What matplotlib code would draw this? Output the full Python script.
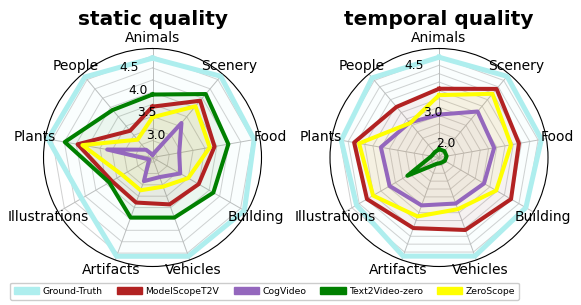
#Imports packages and dependencies
import numpy as np
import matplotlib
matplotlib.use('Agg')
import matplotlib.pyplot as plt
from matplotlib.patches import Patch

#Categories, models and colors
categories = ['Animals', 'Scenery', 'Food', 'Building', 'Vehicles',
              'Artifacts', 'Illustrations', 'Plants', 'People']
models = ['Ground-Truth', 'ModelScopeT2V', 'CogVideo', 'Text2Video-zero', 'ZeroScope']
colors = ['#aeeeee', '#b22222', '#9467bd', '#008000', '#ffff00']

#Static quality scores (one list per model, in category order)
static_gt = [4.70, 4.84, 4.78, 4.84, 4.82, 4.82, 4.34, 4.84, 4.82]
static_modelscope = [3.70, 4.18, 3.95, 3.75, 3.68, 3.64, 3.62, 4.22, 3.37]
static_cogvideo = [2.71, 3.58, 3.21, 3.31, 3.08, 3.17, 2.73, 3.60, 2.86]
static_t2vz = [3.95, 4.36, 4.24, 4.10, 3.97, 3.97, 3.68, 4.49, 3.93]
static_zeroscope = [3.48, 4.03, 3.85, 3.50, 3.29, 3.37, 3.37, 4.12, 3.13]

#Temporal quality scores
temporal_gt = [4.74, 4.91, 4.85, 4.74, 4.88, 4.88, 4.59, 4.71, 4.85]
temporal_modelscope = [3.80, 4.42, 4.17, 4.23, 4.05, 3.99, 4.23, 4.32, 3.72]
temporal_cogvideo = [3.03, 3.54, 3.42, 3.30, 3.21, 3.27, 3.45, 3.51, 3.11]
temporal_t2vz = [2.00, 2.00, 1.98, 1.95, 1.92, 1.95, 2.84, 1.98, 1.95]
temporal_zeroscope = [3.61, 4.23, 3.93, 3.72, 3.39, 3.62, 4.02, 4.17, 3.09]

#Radial ranges, grid levels and labelled ticks
static_lim = (2.65, 4.9)
static_grid = [2.75, 3.0, 3.25, 3.5, 3.75, 4.0, 4.25, 4.5, 4.75]
static_ticks = [3.0, 3.5, 4.0, 4.5]
temporal_lim = (1.75, 5.0)
temporal_grid = [2.0, 2.25, 2.5, 2.75, 3.0, 3.25, 3.5, 3.75, 4.0, 4.25, 4.5, 4.75]
temporal_ticks = [2.0, 3.0, 4.5]


def radar(ax, series, lim, grid, ticks, title):
  n = len(categories)
  angles = np.linspace(0, 2 * np.pi, n, endpoint=False)
  closed = np.append(angles, angles[0])
  ax.set_theta_offset(np.pi / 2)
  ax.set_theta_direction(-1)
  ax.set_ylim(*lim)

  #Polygon grid
  for g in grid:
    ax.plot(closed, [g] * (n + 1), color='#d0d0d0', lw=0.7, zorder=1)

  for i, (vals, col) in enumerate(zip(series, colors)):
    v = np.append(vals, vals[0])
    ax.fill(closed, v, color=col, alpha=0.06, zorder=2)
    ax.plot(closed, v, color=col, lw=3.6 if i == 0 else 2.9, zorder=3)

  ax.set_xticks(angles)
  ax.set_xticklabels([])
  ax.xaxis.grid(True, color='#bcbcbc', lw=0.7)
  ax.yaxis.grid(False)
  ax.set_yticks(ticks)
  ax.set_yticklabels(['{:.1f}'.format(t) for t in ticks], fontsize=8.8)
  ax.set_rlabel_position(-22)
  ax.yaxis.set_zorder(5)
  ax.spines['polar'].set_linewidth(0.8)

  r_lab = lim[0] + 1.1 * (lim[1] - lim[0])
  for a, c in zip(angles, categories):
    ax.text(a, r_lab, c, fontsize=10, ha='center', va='center')
  ax.text(0.5, 1.135, title, transform=ax.transAxes, fontsize=14.5,
          fontweight='bold', ha='center', va='center')


fig = plt.figure(figsize=(5.81, 3.05), dpi=100)
ax1 = fig.add_axes([0.0749, 0.1262, 0.3752, 0.7148], projection='polar')
ax2 = fig.add_axes([0.5680, 0.1262, 0.3752, 0.7148], projection='polar')

radar(ax1, [static_gt, static_modelscope, static_cogvideo, static_t2vz, static_zeroscope],
      static_lim, static_grid, static_ticks, 'static quality')
radar(ax2, [temporal_gt, temporal_modelscope, temporal_cogvideo, temporal_t2vz, temporal_zeroscope],
      temporal_lim, temporal_grid, temporal_ticks, 'temporal quality')

handles = [Patch(facecolor=c, edgecolor=c) for c in colors]
fig.legend(handles, models, loc='lower left', bbox_to_anchor=(10 / 581, 5 / 305),
           ncol=5, fontsize=6.7, handlelength=2.7, handleheight=0.9,
           handletextpad=0.35, columnspacing=1.55, borderpad=0.45,
           borderaxespad=0, fancybox=True, framealpha=1)

fig.savefig('out.png', dpi=100)
